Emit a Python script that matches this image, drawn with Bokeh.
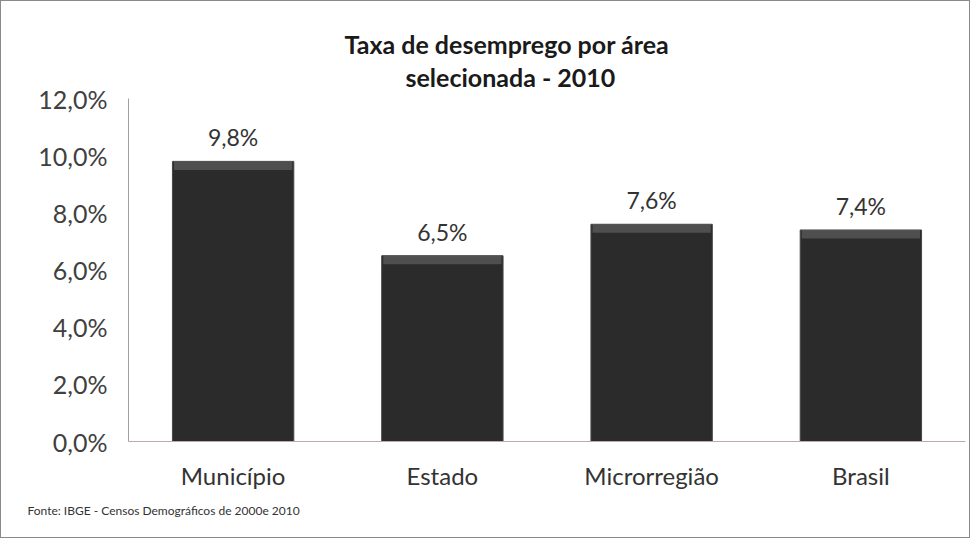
from bokeh.plotting import figure
from bokeh.models import ColumnDataSource, FixedTicker, CustomJSTickFormatter, LabelSet, Title
from bokeh.core.properties import value
from bokeh.embed import file_html
from bokeh.resources import INLINE

categories = ["Município", "Estado", "Microrregião", "Brasil"]
values = [9.8, 6.5, 7.6, 7.4]
y_ticks = [0, 2, 4, 6, 8, 10, 12]
title_lines = ["Taxa de desemprego por área", "selecionada - 2010"]
source_note = "Fonte: IBGE - Censos Demográficos de 2000e 2010"

FONT = "Lato"

labels = [f"{v:.1f}".replace(".", ",") + "%" for v in values]
src = ColumnDataSource(dict(cat=categories, val=values, lab=labels,
                            bevel=[v - 0.3 for v in values]))

p = figure(x_range=categories, y_range=(0, 12), width=970, height=538,
           output_backend="svg", toolbar_location=None,
           min_border_left=127, min_border_right=6, min_border_top=97, min_border_bottom=98,
           styles={"border": "1px solid #8a8a8a", "box-sizing": "border-box"})

p.vbar(x="cat", top="val", width=0.58, source=src, fill_color="#2b2b2b",
       line_color="#474747", line_width=1)
p.vbar(x="cat", top="val", bottom="bevel", width=0.565, source=src,
       fill_color="#5c5c5c", fill_alpha=0.75, line_color=None)

p.add_layout(LabelSet(x="cat", y="val", text="lab", source=src, y_offset=10,
                      text_align="center", text_baseline="bottom",
                      text_font=value(FONT), text_font_size="23px", text_color="#333333"))

p.xgrid.grid_line_color = None
p.ygrid.grid_line_color = None
p.outline_line_color = None
p.background_fill_color = "white"
p.border_fill_color = "white"

p.yaxis.ticker = FixedTicker(ticks=y_ticks)
p.yaxis.formatter = CustomJSTickFormatter(code="return tick.toFixed(1).replace('.', ',') + '%';")
p.yaxis.major_label_text_font = FONT
p.yaxis.major_label_text_font_size = "25px"
p.yaxis.major_label_text_color = "#404040"
p.yaxis.major_tick_line_color = None
p.yaxis.minor_tick_line_color = None
p.yaxis.axis_line_color = "#a0a0a0"
p.yaxis.major_label_standoff = 15

p.xaxis.major_label_text_font = FONT
p.xaxis.major_label_text_font_size = "24px"
p.xaxis.major_label_text_color = "#333333"
p.xaxis.major_tick_line_color = None
p.xaxis.axis_line_color = "#c0a8ac"
p.xaxis.major_label_standoff = 13

# title lines: the one added first sits closest to the plot area
p.add_layout(Title(text=title_lines[1], align="left", offset=277, standoff=14,
                   text_font=FONT, text_font_style="bold", text_font_size="25px",
                   text_color="#1a1a1a"), "above")
p.add_layout(Title(text=title_lines[0], align="left", offset=216, standoff=-13,
                   text_font=FONT, text_font_style="bold", text_font_size="25px",
                   text_color="#1a1a1a"), "above")
p.add_layout(Title(text=source_note, align="left", offset=-101, standoff=17,
                   text_font=FONT, text_font_style="normal", text_font_size="12px",
                   text_color="#333333"), "below")

open("out.html", "w").write(file_html(p, INLINE))
